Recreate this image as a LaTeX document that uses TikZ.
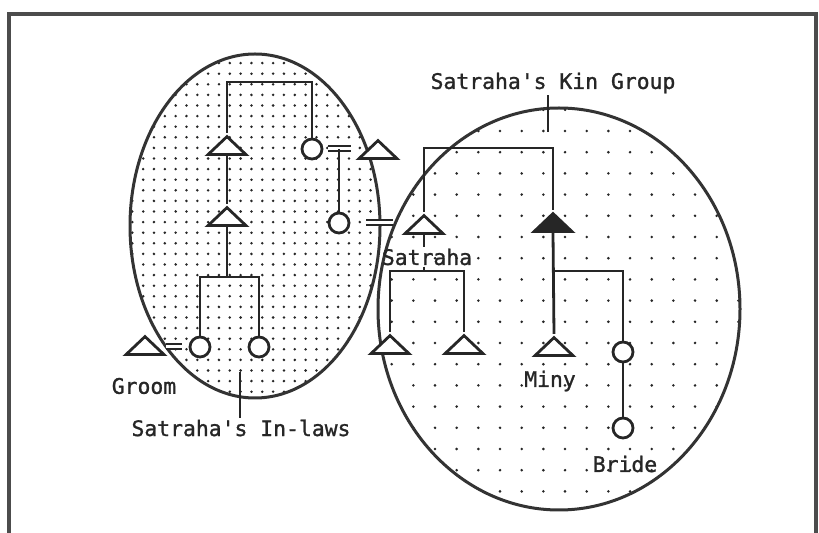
\documentclass[tikz,border=0pt]{standalone}
\usepackage{fontspec}
\newfontfamily\monaco[Ligatures=TeXOff, FakeBold=1.2]{DejaVu Sans Mono}
\usetikzlibrary{shapes.geometric}
\begin{document}
\begin{tikzpicture}[
  x=0.5pt, y=-0.5pt,
  font=\monaco\fontsize{10.7}{12}\selectfont,
  ink/.style={draw=black!85, line width=1.4pt},
  male/.style={ink, isosceles triangle, shape border rotate=90, isosceles triangle stretches,
               minimum width=19pt, minimum height=9pt, inner sep=0pt, anchor=south, fill=white},
  female/.style={ink, circle, minimum size=10pt, inner sep=0pt, fill=white},
  wed/.style={draw=black!85, line width=1pt, double=white, double distance=1.5pt},
  caption/.style={inner sep=0.5pt, text=black!85},
  group/.style={draw=black!80, line width=1.5pt},
  dot/.style={fill=black!85}
]
  \useasboundingbox (0,0) rectangle (819,533);
  \draw[black!70, line width=1.6pt] (9,533) -- (9,14) -- (816,14) -- (816,533);

  \begin{scope}
    \clip (255,226) ellipse [x radius=62.5pt, y radius=86pt];
    \foreach \i in {0,...,24}
      \foreach \j in {0,...,33}
        \fill[dot] (121.5+\i*10.83, 52.5+\j*10.6) circle (0.7pt);
  \end{scope}
  \begin{scope}
    \clip (559,309) ellipse [x radius=90.5pt, y radius=100.5pt];
    \foreach \i in {0,...,17}
      \foreach \j in {0,...,19}
        \fill[dot] (370+\i*21.67, 109.8+\j*21.2) circle (0.72pt);
  \end{scope}
  \draw[group] (255,226) ellipse [x radius=62.5pt, y radius=86pt];
  \draw[group] (559,309) ellipse [x radius=90.5pt, y radius=100.5pt];

  \node[caption] (kinText) at (553,83) {Satraha's Kin Group};
  \node[caption] (inlawText) at (241,428) {Satraha's In-laws};
  \node[caption] (satrahaText) at (427,257) {Satraha};
  \node[caption] (groomText) at (144,386) {Groom};
  \node[caption] (minyText) at (550,381) {Miny};
  \node[caption] (brideText) at (625,464) {Bride};

  \coordinate (inlawTop) at (270,82);
  \coordinate (inlawSibs) at (230,277);
  \coordinate (inlawTick) at (240,372);
  \coordinate (kinTop) at (490,148);
  \coordinate (kinTick) at (548,132);
  \coordinate (satrahaKids) at (427,271);
  \coordinate (kinKids) at (590,271);

  \node[male] (inlawBro) at (227,156) {};
  \node[male] (inlawNephew) at (227,227) {};
  \node[female] (inlawSis) at (312,149) {};
  \node[male] (sisHusband) at (378,160) {};
  \node[female] (wife) at (339,223) {};
  \node[male] (groom) at (145,356) {};
  \node[female] (groomWife) at (200,347) {};
  \node[female] (wifeNiece) at (259,347) {};
  \node[male] (satraha) at (424,235) {};
  \node[male, fill=black!85] (kinHead) at (553,233) {};
  \node[male] (son1) at (390,355) {};
  \node[male] (son2) at (464,355) {};
  \node[male] (miny) at (554,357) {};
  \node[female] (minySis) at (623,352) {};
  \node[female] (bride) at (623,428) {};

  \draw[ink] (inlawBro.apex) |- (inlawTop) -| (inlawSis.north);
  \draw[ink] (inlawBro.south) -- (inlawNephew.apex);
  \draw[ink] (inlawNephew.south) -- (inlawNephew.south |- inlawSibs);
  \draw[ink] (groomWife.north) |- (inlawSibs) -| (wifeNiece.north);
  \draw[wed] (inlawSis.east) ++(2.5pt,0) -- ++(11.5pt,0) coordinate (wedSis);
  \draw[ink] (wife.north) -- (wife.north |- wedSis);
  \draw[wed] (wife.east) ++(8pt,0) -- ++(13.5pt,0);
  \draw[wed] (groomWife.west) ++(-3.5pt,0) -- ++(-8pt,0);
  \draw[ink] (inlawTick) -- (inlawTick |- inlawText.north);

  \draw[ink] (satraha.apex) |- (kinTop) -| (kinHead.apex);
  \draw[ink] (kinTick) -- (kinTick |- kinText.south);
  \draw[ink] (satraha.south) -- (satrahaText.north -| satraha.south);
  \draw[ink] (satrahaText.south -| satraha.south) -- (satraha.south |- satrahaKids);
  \draw[ink] (son1.apex) |- (satrahaKids) -| (son2.apex);
  \draw[ink] (kinHead.south) -- (miny.apex);
  \draw[ink] (kinHead.south |- kinKids) -| (minySis.north);
  \draw[ink] (minySis.south) -- (bride.north);
\end{tikzpicture}
\end{document}
